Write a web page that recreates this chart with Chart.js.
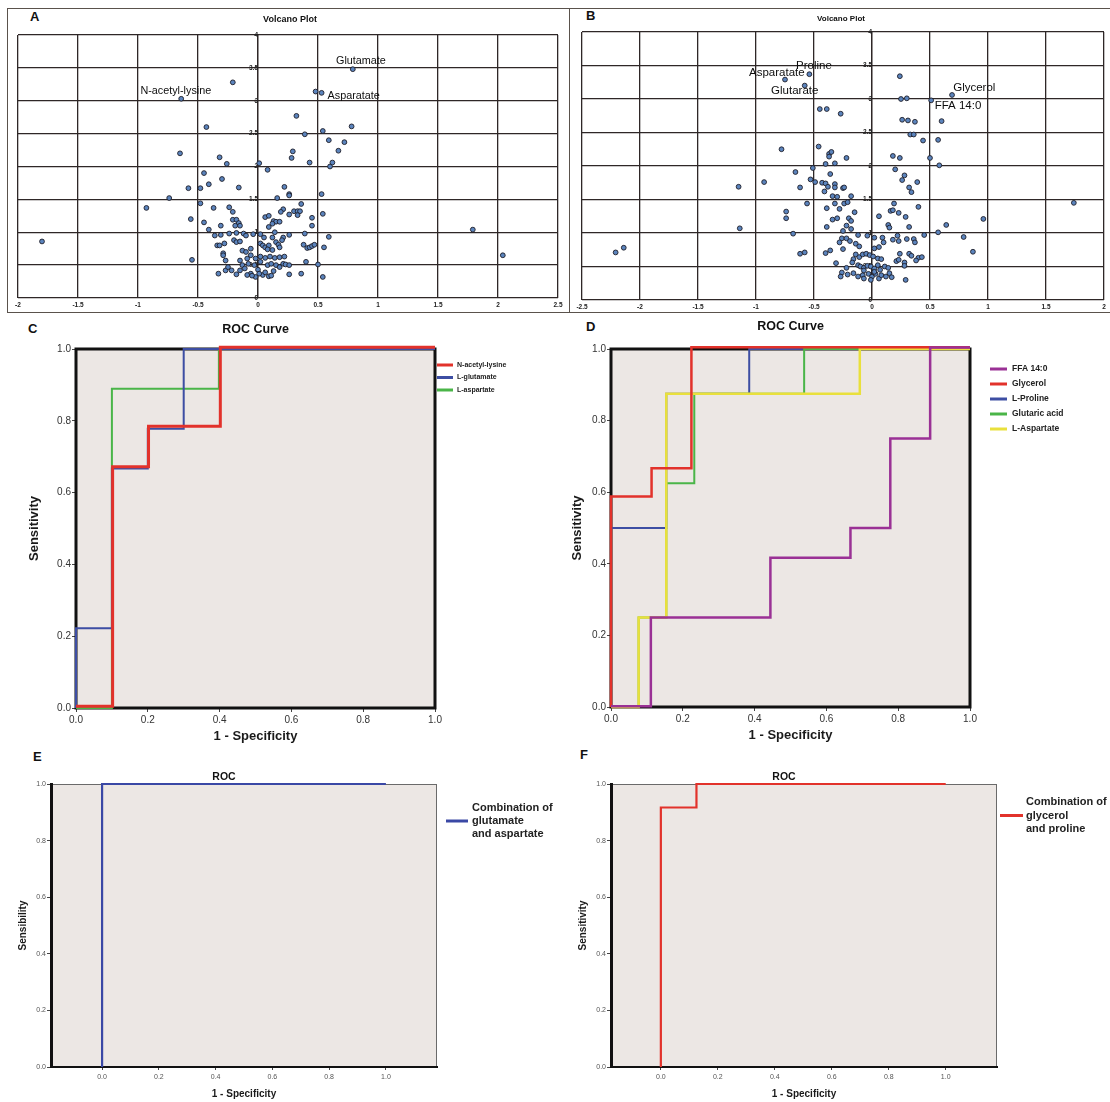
<!DOCTYPE html>
<html>
<head>
<meta charset="utf-8">
<title>Volcano plots and ROC curves</title>
<script src="https://cdn.jsdelivr.net/npm/chart.js@4.4.0/dist/chart.umd.min.js"></script>
<style>
    body { margin: 0; background: #fff; width: 1110px; height: 1102px; overflow: hidden; position: relative; font-family: "Liberation Sans", Arial, sans-serif; }
    canvas { position: absolute; }
    .frame { position: absolute; border: 1px solid #5a524c; box-sizing: border-box; }
    .tag { position: absolute; font-weight: bold; font-size: 13px; color: #111; line-height: 16px; }
</style>
</head>
<body>
<div class="frame" style="left:7px;top:8px;width:563px;height:305px;"></div>
<div class="frame" style="left:569px;top:8px;width:560px;height:305px;"></div>

<div class="tag" style="left:30px;top:9px;">A</div>
<div class="tag" style="left:586px;top:8px;">B</div>
<div class="tag" style="left:28px;top:321px;">C</div>
<div class="tag" style="left:586px;top:319px;">D</div>
<div class="tag" style="left:33px;top:749px;">E</div>
<div class="tag" style="left:580px;top:747px;">F</div>

<canvas id="chartA" width="562" height="305" style="left:7px;top:8px;"></canvas>
<canvas id="chartB" width="541" height="305" style="left:569px;top:8px;"></canvas>
<canvas id="chartC" width="560" height="427" style="left:0px;top:318px;"></canvas>
<canvas id="chartD" width="550" height="427" style="left:560px;top:318px;"></canvas>
<canvas id="chartE" width="560" height="357" style="left:0px;top:745px;"></canvas>
<canvas id="chartF" width="550" height="357" style="left:560px;top:745px;"></canvas>

<script>
// --- Volcano A: log2 fold change / -log10 p ---
const volcanoA_fc = [
    0.79, -0.21, -0.64, 0.48, 0.53, 0.32, -0.43, 0.78, 0.39, 0.54,
    0.59, 0.72, 0.67, -0.65, 0.29, 0.28, -0.32, -0.26, 0.01, 0.43,
    0.62, 0.60, 0.08, -0.45, -0.30, -0.41, -0.58, -0.48, -0.16, 0.22,
    0.26, 0.26, 0.53, -0.74, 0.16, -0.93, -0.48, -0.37, -0.24, -0.21,
    0.36, 0.21, 0.19, 0.30, 0.33, 0.35, 0.33, 0.26, 0.54, -0.56,
    -0.21, -0.18, -0.16, -0.19, -0.15, 0.06, 0.09, 0.13, 0.15, 0.18,
    0.12, 0.09, 0.45, 0.45, -0.45, -0.31, -0.41, -0.36, -0.31, -0.24,
    -0.18, -0.12, -0.10, -0.04, 0.02, 0.05, 0.14, 0.12, 0.21, 0.26,
    0.39, 0.59, -1.80, 1.79, 2.04, -0.34, -0.32, -0.28, -0.20, -0.18,
    -0.15, -0.13, -0.10, -0.06, 0.02, 0.04, 0.06, 0.09, 0.08, 0.12,
    0.15, 0.17, 0.18, 0.20, 0.38, 0.41, 0.43, 0.45, 0.47, 0.55,
    -0.29, -0.29, -0.55, -0.27, -0.15, -0.09, -0.06, -0.02, 0.02, 0.06,
    0.10, 0.14, 0.18, 0.22, 0.40, 0.50, -0.33, -0.27, -0.25, -0.22,
    -0.18, -0.15, -0.13, -0.11, -0.08, -0.06, -0.03, 0.00, 0.02, 0.04,
    0.08, 0.09, 0.11, 0.13, 0.15, 0.18, 0.21, 0.23, 0.26, 0.26,
    0.36, 0.54, -0.02, -0.05, -0.09, 0.01, 0.06, 0.11
];
const volcanoA_logp = [
    3.48, 3.28, 3.03, 3.14, 3.12, 2.77, 2.60, 2.61, 2.49, 2.54,
    2.40, 2.37, 2.24, 2.20, 2.23, 2.13, 2.14, 2.04, 2.05, 2.06,
    2.06, 2.00, 1.95, 1.90, 1.81, 1.73, 1.67, 1.67, 1.68, 1.69,
    1.58, 1.56, 1.58, 1.52, 1.52, 1.37, 1.44, 1.37, 1.38, 1.31,
    1.43, 1.35, 1.31, 1.32, 1.32, 1.32, 1.26, 1.27, 1.28, 1.20,
    1.19, 1.19, 1.14, 1.10, 1.10, 1.23, 1.25, 1.17, 1.16, 1.16,
    1.13, 1.08, 1.22, 1.10, 1.15, 1.10, 1.04, 0.95, 0.96, 0.98,
    0.99, 0.98, 0.95, 0.97, 0.97, 0.92, 1.00, 0.92, 0.92, 0.96,
    0.98, 0.93, 0.86, 1.04, 0.65, 0.80, 0.80, 0.83, 0.88, 0.85,
    0.86, 0.72, 0.70, 0.75, 0.83, 0.80, 0.77, 0.80, 0.74, 0.73,
    0.85, 0.81, 0.77, 0.88, 0.81, 0.76, 0.77, 0.79, 0.81, 0.77,
    0.68, 0.65, 0.58, 0.57, 0.57, 0.60, 0.65, 0.60, 0.63, 0.61,
    0.63, 0.61, 0.62, 0.63, 0.55, 0.51, 0.37, 0.42, 0.47, 0.42,
    0.36, 0.42, 0.50, 0.45, 0.52, 0.37, 0.50, 0.43, 0.55, 0.35,
    0.50, 0.33, 0.52, 0.41, 0.50, 0.47, 0.52, 0.51, 0.50, 0.36,
    0.37, 0.32, 0.32, 0.34, 0.35, 0.37, 0.39, 0.34
];
const notesA = ['Glutamate', 'N-acetyl-lysine', 'Asparatate'];
const notesA_x = [0.65, -0.98, 0.58];
const notesA_y = [3.60, 3.15, 3.07];

// --- Volcano B ---
const volcanoB_fc = [
    0.24, -0.54, -0.75, -0.58, 0.69, 0.51, 0.25, 0.30, -0.45, -0.39,
    -0.27, 0.26, 0.31, 0.37, 0.60, 0.33, 0.36, 0.44, 0.57, -0.78,
    -0.46, -0.37, -0.35, -0.37, -0.40, -0.32, -0.22, 0.18, 0.24, 0.50,
    0.58, -0.66, -0.51, -0.36, 0.20, 0.28, 0.26, -1.15, -0.93, -0.62,
    -0.53, -0.49, -0.43, -0.40, -0.38, -0.32, -0.32, -0.25, -0.24, -0.41,
    -0.34, -0.30, -0.18, 0.32, 0.34, 0.39, 1.74, -0.56, -0.32, -0.24,
    -0.21, -0.39, -0.28, -0.15, 0.19, 0.16, 0.18, 0.23, 0.29, 0.40,
    -0.74, -0.74, -0.34, -0.30, -0.20, -0.18, 0.06, 0.96, -1.14, -0.39,
    -0.22, -0.18, -0.25, 0.14, 0.15, 0.32, 0.64, 0.57, -0.68, -0.12,
    -0.04, 0.02, 0.09, 0.10, 0.18, 0.22, 0.23, 0.30, 0.36, 0.37,
    0.45, 0.79, -0.26, -0.22, -0.19, -0.28, -0.25, -0.14, -0.11, 0.02,
    0.06, -2.21, -2.14, -0.62, -0.58, -0.40, -0.36, 0.87, 0.40, 0.43,
    0.38, 0.32, 0.34, 0.24, 0.21, 0.23, 0.28, 0.28, -0.31, -0.14,
    -0.16, -0.11, -0.08, -0.05, -0.02, 0.01, 0.05, 0.08, -0.17, -0.12,
    -0.10, -0.07, -0.04, -0.01, 0.02, 0.05, 0.07, 0.11, 0.14, -0.22,
    -0.26, -0.27, -0.21, -0.16, -0.12, -0.08, -0.07, -0.03, 0.00, 0.03,
    0.06, 0.08, 0.12, 0.15, 0.17, 0.29, -0.01, -0.07, 0.02
];
const volcanoB_logp = [
    3.34, 3.37, 3.29, 3.20, 3.06, 2.98, 3.00, 3.01, 2.85, 2.85,
    2.78, 2.69, 2.68, 2.66, 2.67, 2.47, 2.47, 2.38, 2.39, 2.25,
    2.29, 2.18, 2.21, 2.14, 2.03, 2.04, 2.12, 2.15, 2.12, 2.12,
    2.01, 1.91, 1.97, 1.88, 1.95, 1.86, 1.79, 1.69, 1.76, 1.68,
    1.80, 1.76, 1.75, 1.74, 1.69, 1.73, 1.68, 1.67, 1.68, 1.62,
    1.55, 1.54, 1.55, 1.68, 1.61, 1.76, 1.45, 1.44, 1.44, 1.44,
    1.46, 1.37, 1.36, 1.31, 1.44, 1.33, 1.34, 1.30, 1.24, 1.39,
    1.32, 1.22, 1.20, 1.22, 1.22, 1.18, 1.25, 1.21, 1.07, 1.09,
    1.11, 1.06, 1.03, 1.12, 1.08, 1.09, 1.12, 1.01, 0.99, 0.97,
    0.96, 0.93, 0.93, 0.86, 0.90, 0.96, 0.88, 0.91, 0.91, 0.86,
    0.97, 0.94, 0.92, 0.92, 0.88, 0.86, 0.76, 0.84, 0.80, 0.77,
    0.79, 0.71, 0.78, 0.69, 0.71, 0.70, 0.74, 0.72, 0.63, 0.64,
    0.59, 0.69, 0.66, 0.69, 0.58, 0.60, 0.56, 0.51, 0.55, 0.68,
    0.61, 0.64, 0.68, 0.69, 0.67, 0.65, 0.62, 0.61, 0.56, 0.52,
    0.50, 0.48, 0.51, 0.50, 0.47, 0.52, 0.45, 0.50, 0.48, 0.48,
    0.41, 0.35, 0.38, 0.40, 0.35, 0.37, 0.32, 0.39, 0.35, 0.39,
    0.32, 0.37, 0.35, 0.40, 0.34, 0.30, 0.30, 0.44, 0.42
];
const notesB = ['Proline', 'Asparatate', 'Glutarate', 'Glycerol', 'FFA 14:0'];
const notesB_x = [-0.655, -1.06, -0.87, 0.70, 0.54];
const notesB_y = [3.49, 3.39, 3.12, 3.16, 2.90];

const volcanoXTicks = [-2.5, -2, -1.5, -1, -0.5, 0, 0.5, 1, 1.5, 2, 2.5];

// --- ROC C ---
const labelsC = ['N-acetyl-lysine', 'L-glutamate', 'L-aspartate'];
const fprNAcetylLysine = [0, 0.102, 0.102, 0.202, 0.202, 0.402, 0.402, 1];
const tprNAcetylLysine = [0.005, 0.005, 0.672, 0.672, 0.785, 0.785, 1.005, 1.005];
const fprGlutamateC = [0, 0, 0.1, 0.1, 0.2, 0.2, 0.3, 0.3, 1];
const tprGlutamateC = [0, 0.222, 0.222, 0.667, 0.667, 0.778, 0.778, 1, 1];
const fprAspartateC = [0, 0.1, 0.1, 0.398, 0.398, 1];
const tprAspartateC = [0, 0, 0.889, 0.889, 1, 1];

// --- ROC D ---
const labelsD = ['FFA 14:0', 'Glycerol', 'L-Proline', 'Glutaric acid', 'L-Aspartate'];
const fprFFA = [0, 0.111, 0.111, 0.444, 0.444, 0.667, 0.667, 0.778, 0.778, 0.889, 0.889, 1];
const tprFFA = [0.002, 0.002, 0.25, 0.25, 0.417, 0.417, 0.5, 0.5, 0.75, 0.75, 1.004, 1.004];
const fprGlycerol = [0, 0, 0.113, 0.113, 0.224, 0.224, 1];
const tprGlycerol = [0, 0.588, 0.588, 0.667, 0.667, 1.005, 1.005];
const fprProline = [0, 0, 0.15, 0.154, 0.154, 0.385, 0.385, 1];
const tprProline = [0, 0.5, 0.5, 0.5, 0.875, 0.875, 1, 1];
const fprGlutaric = [0, 0.077, 0.077, 0.154, 0.154, 0.232, 0.232, 0.538, 0.538, 1];
const tprGlutaric = [0, 0, 0.25, 0.25, 0.625, 0.625, 0.875, 0.875, 1, 1];
const fprAspartateD = [0, 0.077, 0.077, 0.154, 0.154, 0.693, 0.693, 1];
const tprAspartateD = [0, 0, 0.25, 0.25, 0.875, 0.875, 1, 1];

// --- ROC E / F (combinations) ---
const labelE = 'Combination of\nglutamate\nand aspartate';
const fprE = [0, 0, 1];
const tprE = [0, 1, 1];
const labelF = 'Combination of\nglycerol\nand proline';
const fprF = [0, 0, 0.125, 0.125, 1];
const tprF = [0, 0.917, 0.917, 1, 1];

const rocTicks = [0, 0.2, 0.4, 0.6, 0.8, 1];

Chart.defaults.font.family = '"Liberation Sans", Arial, sans-serif';
Chart.defaults.color = '#222';
Chart.defaults.animation = false;
Chart.defaults.plugins.legend.display = false;
Chart.defaults.plugins.tooltip.enabled = false;

// tekst nad obszarem wykresu
function makeTitle(text, font, dx, dy) {
    return {
        id: 'topTitle',
        afterDraw(chart) {
            const { ctx, chartArea: a } = chart;
            ctx.save();
            ctx.font = font;
            ctx.fillStyle = '#111';
            ctx.textAlign = 'center';
            ctx.textBaseline = 'middle';
            ctx.fillText(text, (a.left + a.right) / 2 + dx, a.top - dy);
            ctx.restore();
        }
    };
}

// podpisy punktow na wykresie wulkanicznym
function makeNotes(names, xs, ys, font) {
    return {
        id: 'pointNotes',
        afterDatasetsDraw(chart) {
            const { ctx, scales } = chart;
            ctx.save();
            ctx.font = font;
            ctx.fillStyle = '#0d0d0d';
            ctx.textBaseline = 'middle';
            names.forEach((n, i) => {
                ctx.fillText(n, scales.x.getPixelForValue(xs[i]), scales.y.getPixelForValue(ys[i]));
            });
            ctx.restore();
        }
    };
}

// tlo i ramka obszaru wykresu
function makeBox(thick) {
    return {
        id: 'plotBox',
        beforeDraw(chart) {
            const { ctx, chartArea: a } = chart;
            ctx.save();
            ctx.fillStyle = '#ece7e4';
            ctx.fillRect(a.left, a.top, a.right - a.left, a.bottom - a.top);
            if (!thick) {
                ctx.strokeStyle = '#6a6a6a';
                ctx.lineWidth = 1;
                ctx.strokeRect(a.left + 0.5, a.top + 0.5, a.right - a.left - 1, a.bottom - a.top);
            }
            ctx.restore();
        },
        beforeDatasetsDraw(chart) {
            if (!thick) return;
            const { ctx, chartArea: a } = chart;
            ctx.save();
            ctx.strokeStyle = '#111';
            ctx.lineWidth = 3;
            ctx.strokeRect(a.left, a.top, a.right - a.left, a.bottom - a.top);
            ctx.restore();
        }
    };
}

// legenda po prawej stronie
function makeLegend(o) {
    return {
        id: 'sideLegend',
        afterDraw(chart) {
            const { ctx, chartArea: a } = chart;
            ctx.save();
            ctx.font = o.font;
            ctx.fillStyle = '#222';
            ctx.textBaseline = 'middle';
            let row = 0;
            chart.data.datasets.forEach(ds => {
                const lines = ds.label.split('\n');
                const lineY = a.top + o.dy + (row + (o.lineRow || 0)) * o.step;
                ctx.strokeStyle = ds.borderColor;
                ctx.lineWidth = 3;
                ctx.beginPath();
                ctx.moveTo(a.right + o.x0, lineY);
                ctx.lineTo(a.right + o.x0 + o.len, lineY);
                ctx.stroke();
                lines.forEach((t, k) => {
                    ctx.fillText(t, a.right + o.tx, a.top + o.dy + (row + k) * o.step);
                });
                row += lines.length;
            });
            ctx.restore();
        }
    };
}

function volcano(id, fc, logp, o) {
    const ctx = document.getElementById(id).getContext('2d');
    const gridColor = '#2e2727';
    return new Chart(ctx, {
        type: 'scatter',
        data: {
            datasets: [{
                data: fc.map((v, i) => ({ x: v, y: logp[i] })),
                pointRadius: 2.4,
                pointBackgroundColor: '#5b84bd',
                pointBorderColor: '#1d1d28',
                pointBorderWidth: 0.9
            }]
        },
        options: {
            responsive: false,
            layout: { padding: o.pad },
            scales: {
                x: {
                    type: 'linear', min: o.xMin, max: o.xMax,
                    afterBuildTicks: s => { s.ticks = volcanoXTicks.filter(v => v >= o.xMin && v <= o.xMax).map(v => ({ value: v })); },
                    ticks: { font: { size: 6.5, weight: 'bold' }, color: '#222', padding: 3, maxRotation: 0, autoSkip: false, callback: v => String(v) },
                    grid: { color: gridColor, lineWidth: 1.3, drawTicks: false },
                    border: { display: false },
                    afterFit: s => { s.height = o.xh; }
                },
                y: {
                    axis: 'y', type: 'linear', position: { x: 0 }, min: 0, max: 4,
                    ticks: { stepSize: 0.5, font: { size: 6.5, weight: 'bold' }, color: '#222', padding: 1, autoSkip: false, callback: v => String(v) },
                    grid: { color: gridColor, lineWidth: 1.3, tickLength: 3 },
                    border: { color: gridColor, width: 1.3 }
                }
            }
        },
        plugins: [makeNotes(o.notes, o.notesX, o.notesY, o.noteFont), makeTitle('Volcano Plot', o.titleFont, o.titleDx, o.titleDy)]
    });
}

function roc(id, sets, o) {
    const ctx = document.getElementById(id).getContext('2d');
    return new Chart(ctx, {
        type: 'scatter',
        data: {
            datasets: sets.map(s => ({
                label: s.label,
                data: s.fpr.map((v, i) => ({ x: v, y: s.tpr[i] })),
                showLine: true,
                borderColor: s.color,
                borderWidth: s.width,
                pointRadius: 0,
                tension: 0,
                clip: 5,
                order: s.order
            }))
        },
        options: {
            responsive: false,
            layout: { padding: o.pad },
            scales: {
                x: {
                    type: 'linear', min: o.xMin, max: o.xMax,
                    afterBuildTicks: s => { s.ticks = rocTicks.map(v => ({ value: v })); },
                    ticks: { font: { size: o.tickSize }, color: o.tickColor, padding: o.xTickPad, maxRotation: 0, autoSkip: false, callback: v => v.toFixed(1) },
                    grid: { drawOnChartArea: false, tickLength: o.tickLen, color: '#444' },
                    border: o.thick ? { display: false } : { color: '#111', width: 2 },
                    title: { display: true, text: '1 - Specificity', color: '#1a1a1a', font: { size: o.titleSize, weight: 'bold' }, padding: { top: 0, bottom: o.xTitlePad } },
                    afterFit: s => { s.height = o.xh; }
                },
                y: {
                    type: 'linear', min: 0, max: 1,
                    afterBuildTicks: s => { s.ticks = rocTicks.map(v => ({ value: v })); },
                    ticks: { font: { size: o.tickSize }, color: o.tickColor, padding: 1, autoSkip: false, callback: v => v.toFixed(1) },
                    grid: { drawOnChartArea: false, tickLength: 4, color: '#444' },
                    border: o.thick ? { display: false } : { color: '#111', width: 3 },
                    title: { display: true, text: o.yTitle, color: '#1a1a1a', font: { size: o.titleSize, weight: 'bold' }, padding: { top: o.yTitlePad, bottom: 0 } },
                    afterFit: s => { s.width = o.yw; }
                }
            }
        },
        plugins: [makeBox(o.thick), makeLegend(o.legend), makeTitle(o.title, o.headFont, o.headDx, o.headDy)]
    });
}

document.addEventListener('DOMContentLoaded', function() {
    volcano('chartA', volcanoA_fc, volcanoA_logp, {
        pad: { left: 11, right: 11, top: 27, bottom: 3 }, xh: 12, xMin: -2, xMax: 2.5,
        notes: notesA, notesX: notesA_x, notesY: notesA_y, noteFont: '10.8px "Liberation Sans", Arial, sans-serif',
        titleFont: 'bold 9px "Liberation Sans", Arial, sans-serif', titleDx: 2, titleDy: 15
    });

    volcano('chartB', volcanoB_fc, volcanoB_logp, {
        pad: { left: 13, right: 6, top: 24, bottom: 2 }, xh: 11, xMin: -2.5, xMax: 2,
        notes: notesB, notesX: notesB_x, notesY: notesB_y, noteFont: '11.5px "Liberation Sans", Arial, sans-serif',
        titleFont: 'bold 8px "Liberation Sans", Arial, sans-serif', titleDx: -2, titleDy: 13
    });

    roc('chartC', [
        { label: labelsC[0], fpr: fprNAcetylLysine, tpr: tprNAcetylLysine, color: '#e2322b', width: 3, order: 1 },
        { label: labelsC[1], fpr: fprGlutamateC, tpr: tprGlutamateC, color: '#3d4ea3', width: 2, order: 2 },
        { label: labelsC[2], fpr: fprAspartateC, tpr: tprAspartateC, color: '#4ab548', width: 2, order: 3 }
    ], {
        pad: { left: 0, right: 125, top: 31, bottom: 0 }, yw: 76, xh: 37, xMin: 0, xMax: 1, thick: true,
        tickSize: 10, tickColor: '#333', xTickPad: 2, tickLen: 4, titleSize: 13, xTitlePad: 1, yTitlePad: 27,
        yTitle: 'Sensitivity', title: 'ROC Curve', headFont: 'bold 12.5px "Liberation Sans", Arial, sans-serif', headDx: 0, headDy: 19,
        legend: { font: 'bold 7px "Liberation Sans", Arial, sans-serif', x0: 2, len: 16, tx: 22, dy: 16, step: 12.5 }
    });

    roc('chartD', [
        { label: labelsD[0], fpr: fprFFA, tpr: tprFFA, color: '#9a3195', width: 2.5, order: 1 },
        { label: labelsD[1], fpr: fprGlycerol, tpr: tprGlycerol, color: '#e2322b', width: 2.5, order: 2 },
        { label: labelsD[2], fpr: fprProline, tpr: tprProline, color: '#3d4ea3', width: 2, order: 5 },
        { label: labelsD[3], fpr: fprGlutaric, tpr: tprGlutaric, color: '#4ab548', width: 2, order: 4 },
        { label: labelsD[4], fpr: fprAspartateD, tpr: tprAspartateD, color: '#e9e03c', width: 2.5, order: 3 }
    ], {
        pad: { left: 0, right: 140, top: 31, bottom: 0 }, yw: 51, xh: 38, xMin: 0, xMax: 1, thick: true,
        tickSize: 10, tickColor: '#333', xTickPad: 2, tickLen: 4, titleSize: 13, xTitlePad: 1.5, yTitlePad: 10,
        yTitle: 'Sensitivity', title: 'ROC Curve', headFont: 'bold 12.5px "Liberation Sans", Arial, sans-serif', headDx: 0, headDy: 22,
        legend: { font: 'bold 8.5px "Liberation Sans", Arial, sans-serif', x0: 20, len: 17, tx: 42, dy: 20, step: 15 }
    });

    roc('chartE', [
        { label: labelE, fpr: fprE, tpr: tprE, color: '#3a48a5', width: 2.2, order: 1 }
    ], {
        pad: { left: 0, right: 123, top: 39, bottom: 0 }, yw: 51, xh: 35, xMin: -0.18, xMax: 1.18, thick: false,
        tickSize: 7, tickColor: '#555', xTickPad: 3, tickLen: 3, titleSize: 10, xTitlePad: 2, yTitlePad: 17,
        yTitle: 'Sensibility', title: 'ROC', headFont: 'bold 10.5px "Liberation Sans", Arial, sans-serif', headDx: -20, headDy: 7,
        legend: { font: 'bold 11px "Liberation Sans", Arial, sans-serif', x0: 9, len: 22, tx: 35, dy: 24, step: 13, lineRow: 1 }
    });

    roc('chartF', [
        { label: labelF, fpr: fprF, tpr: tprF, color: '#e2322b', width: 2.2, order: 1 }
    ], {
        pad: { left: 0, right: 113, top: 39, bottom: 0 }, yw: 51, xh: 35, xMin: -0.175, xMax: 1.18, thick: false,
        tickSize: 7, tickColor: '#555', xTickPad: 3, tickLen: 3, titleSize: 10, xTitlePad: 2, yTitlePad: 17,
        yTitle: 'Sensitivity', title: 'ROC', headFont: 'bold 10.5px "Liberation Sans", Arial, sans-serif', headDx: -20, headDy: 7,
        legend: { font: 'bold 11px "Liberation Sans", Arial, sans-serif', x0: 3, len: 23, tx: 29, dy: 18, step: 13.5, lineRow: 1 }
    });
});
</script>
</body>
</html>
